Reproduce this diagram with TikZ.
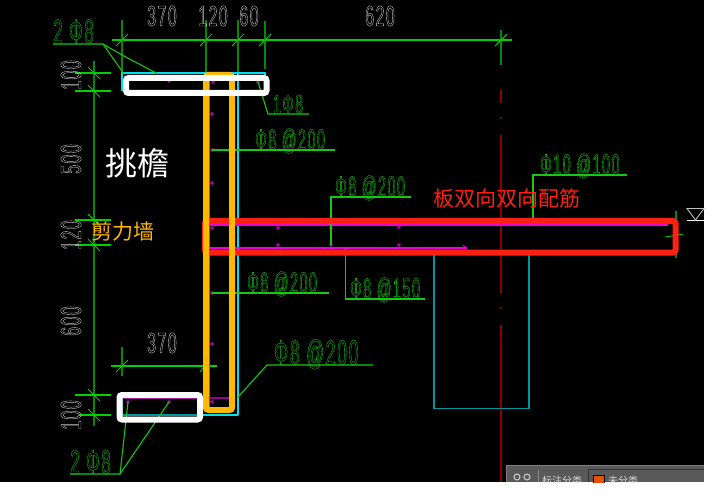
\documentclass[tikz,border=0pt]{standalone}
\usepackage{fontspec}
\newfontfamily\cad[FakeStretch=0.55,LetterSpace=5]{Liberation Sans}
\newfontfamily\cadn[FakeStretch=0.5,LetterSpace=5]{Liberation Sans}
\newfontfamily\cjk{Noto Sans CJK SC}
\newcommand{\hollow}[1]{\special{pdf:code q 1 Tr 0.35 w}#1\special{pdf:code Q}}
\definecolor{dimg}{RGB}{0,210,0}
\definecolor{dimd}{RGB}{10,135,10}
\definecolor{leadg}{RGB}{20,200,20}
\definecolor{wallc}{RGB}{0,225,240}
\definecolor{tealc}{RGB}{0,150,160}
\definecolor{magc}{RGB}{235,0,235}
\definecolor{purc}{RGB}{150,0,150}
\definecolor{ctr}{RGB}{140,0,0}
\definecolor{orng}{RGB}{255,184,0}
\definecolor{redb}{RGB}{255,32,16}
\definecolor{txtg}{RGB}{205,205,205}
\tikzset{
  dimline/.style={dimg,line width=1.2pt},
  dimv/.style={dimd,line width=1.5pt},
  tick/.style={dimg,line width=0.9pt},
  leader/.style={leadg,line width=1.1pt},
  wall/.style={wallc,line width=1.1pt},
  slabwall/.style={tealc,line width=1.1pt},
  bar/.style={magc,line width=1.1pt},
  dot/.style={circle,draw=magc,line width=0.7pt,inner sep=0pt,minimum size=2.6pt},
  hl/.style={line width=6pt,rounded corners=2.5pt},
  dimtext/.style={txtg,font=\cad\fontsize{29}{29}\selectfont,inner sep=0pt},
  vtext/.style={dimtext,rotate=90},
  rebar/.style={leadg,font=\cadn\fontsize{29}{29}\selectfont,inner sep=0pt,anchor=base west},
}
\begin{document}
\begin{tikzpicture}[x=1pt,y=-1pt]
\useasboundingbox (0,0) rectangle (726,495);
\fill[white] (0,0) rectangle (726,495);
\fill[black] (0,0) rectangle (704,482);
% centre line
\draw[ctr,line width=1.4pt] (501,89) -- (501,103);
\draw[ctr,line width=1.4pt] (501,117) -- (501,119);
\draw[ctr,line width=1.4pt] (501,135) -- (501,293);
\draw[ctr,line width=1.4pt] (501,307) -- (501,309);
\draw[ctr,line width=1.4pt] (501,325) -- (501,482);
% top dimension
\draw[dimline] (112,40) -- (512,40);
\foreach \x/\a/\b in {122/20/72,206/20/72,238/20/72,265/21/69,501/30/65}{
  \draw[dimv] (\x,\a) -- (\x,\b);
  \draw[tick] (\x-6,46) -- (\x+6,34);
}
\node[dimtext] (d370) at (162,16) {\hollow{370}};
\node[dimtext] (d120) at (213,16) {\hollow{120}};
\node[dimtext] (d60) at (249,16) {\hollow{60}};
\node[dimtext] (d620) at (380,16) {\hollow{620}};
% left dimension
\draw[dimv,line width=2pt] (94,61) -- (94,426);
\foreach \y/\a in {73/75,91/75,220/75,245/75,395/75,415/79}{
  \draw[dimline] (\a,\y) -- (111,\y);
  \draw[tick] (88,\y-6) -- (100,\y+6);
}
\node[vtext] (v100a) at (71,75) {\hollow{100}};
\node[vtext] (v500) at (71,159) {\hollow{500}};
\node[vtext] (v120) at (71,235) {\hollow{120}};
\node[vtext] (v600) at (71,321) {\hollow{600}};
\node[vtext] (v100b) at (71,415) {\hollow{100}};
% lower 370
\draw[dimline] (111,366) -- (217,366);
\draw[dimv] (122,347) -- (122,376);
\draw[tick] (116,372) -- (128,360);
\draw[tick] (200,372) -- (210,360);
\node[dimtext] (d370b) at (162,343) {\hollow{370}};
% concrete outline
\draw[wall] (122,91) -- (122,73) -- (265,73) -- (265,91);
\draw[wall] (238,73) -- (238,415);
\draw[slabwall] (122,398) -- (122,415);
\draw[wall] (203,415) -- (238,415);
\draw[slabwall,line width=1.6pt] (122,415) -- (203,415);
\draw[slabwall] (434,255) -- (434,408.5) -- (529,408.5) -- (529,255);
% reinforcement
\draw[bar] (209.5,80) -- (209.5,412);
\draw[bar] (210,225) -- (668,225);
\draw[bar] (209,248) -- (467,248);
\draw[magc,line width=0.8pt] (463,245) -- (466,248);
\draw[purc,line width=1.2pt] (124,398) -- (232,398);
\foreach \p in {(213,82),(212,114),(212,150),(212,183),(212,228),(278,228),(331,228),(399,227),(278,245),(331,245),(399,245),(212,293),(212,344),(212,402),(128,402),(169,402),(258,82),(169,81)}{
  \node[dot] at \p {};
}
% leaders and labels
\coordinate (la) at (103,44);
\draw[leader] (53,44) -- (la) -- (124,74);
\draw[leader] (la) -- (122,55) -- (158,74);
\node[rebar,font=\cadn\fontsize{34}{34}\selectfont] (t2a) at (53,43) {\hollow{2 Φ8}};
\draw[leader] (258,82) -- (268,114) -- (309,114);
\node[rebar,font=\cad\fontsize{26}{26}\selectfont] (t1a) at (273,113) {\hollow{1Φ8}};
\draw[leader] (212,150) -- (335,150);
\node[rebar] (ta) at (255,149.5) {\hollow{Φ8 @200}};
\draw[leader] (331,245) -- (331,197) -- (411,197);
\node[rebar] (tb) at (335,196.5) {\hollow{Φ8 @200}};
\draw[leader] (533,222) -- (533,175) -- (627,175);
\node[rebar] (tc) at (540,174.5) {\hollow{Φ10 @100}};
\draw[leader] (345.6,249) -- (345.6,299) -- (425,299);
\node[rebar] (td) at (350,298.5) {\hollow{Φ8 @150}};
\draw[leader] (212,293) -- (329,293);
\node[rebar] (te) at (247,292.5) {\hollow{Φ8 @200}};
\draw[leader] (238,397) -- (267,365) -- (373,365);
\node[rebar,font=\cadn\fontsize{35}{35}\selectfont] (tf) at (274,364.5) {\hollow{Φ8 @200}};
\draw[leader] (70,474) -- (120,474) -- (128,402);
\draw[leader] (120,474) -- (169,402);
\node[rebar,font=\cadn\fontsize{34}{34}\selectfont] (t2b) at (70,473.5) {\hollow{2 Φ8}};
% level mark
\draw[white,line width=0.9pt] (687,220) -- (704,220);
\draw[white!75!black,line width=0.9pt] (687,208.5) -- (704,208.5) -- (695.5,220) -- cycle;
\draw[dimd,line width=1.2pt] (676,211) -- (676,258);
\draw[dimg,line width=0.9pt] (665,237) -- (683,234);
% highlights
\draw[redb,hl] (205,221) rectangle (675.5,252.5);
\draw[orng,hl] (206,75) rectangle (232,410);
\draw[white,hl] (126,78) rectangle (266.5,93);
\draw[white,hl] (119.5,395) rectangle (200,419.5);
% annotations
\node[white,font=\cjk\fontsize{32}{32}\selectfont,inner sep=0pt] (l1) at (137,163) {挑檐};
\node[orng,font=\cjk\fontsize{21}{21}\selectfont,inner sep=0pt] (l2) at (122.5,232) {剪力墙};
\node[redb,font=\cjk\fontsize{21}{21}\selectfont,inner sep=0pt] (l3) at (506.5,199) {板双向双向配筋};
% status bar
\begin{scope}
\clip (0,0) rectangle (704,482);
\fill[black!65!white] (506,465) rectangle (704,482);
\draw[black!50!white,line width=0.8pt] (506,465) -- (704,465);
\draw[black!50!white,line width=0.8pt] (506,465) -- (506,482);
\draw[black!80!white,line width=0.8pt] (588,482) -- (588,469) -- (704,469);
\draw[black,line width=0.8pt,fill={rgb,255:red,235;green,80;blue,0}] (593,475) rectangle (604,486);
\draw[white!80!black,line width=1pt] (517,477) circle (3) (527,477) circle (3);
\draw[white!80!black,line width=1pt] (514,484) -- (530,484);
\draw[black!45!white,line width=0.6pt] (538,470) -- (538,482);
\node[white!85!black,font=\cjk\fontsize{10}{10}\selectfont,inner sep=0pt,anchor=base west] (s1) at (542,484) {标注分类};
\node[white!85!black,font=\cjk\fontsize{10}{10}\selectfont,inner sep=0pt,anchor=base west] (s2) at (608,484) {未分类};
\end{scope}
\end{tikzpicture}
\end{document}
